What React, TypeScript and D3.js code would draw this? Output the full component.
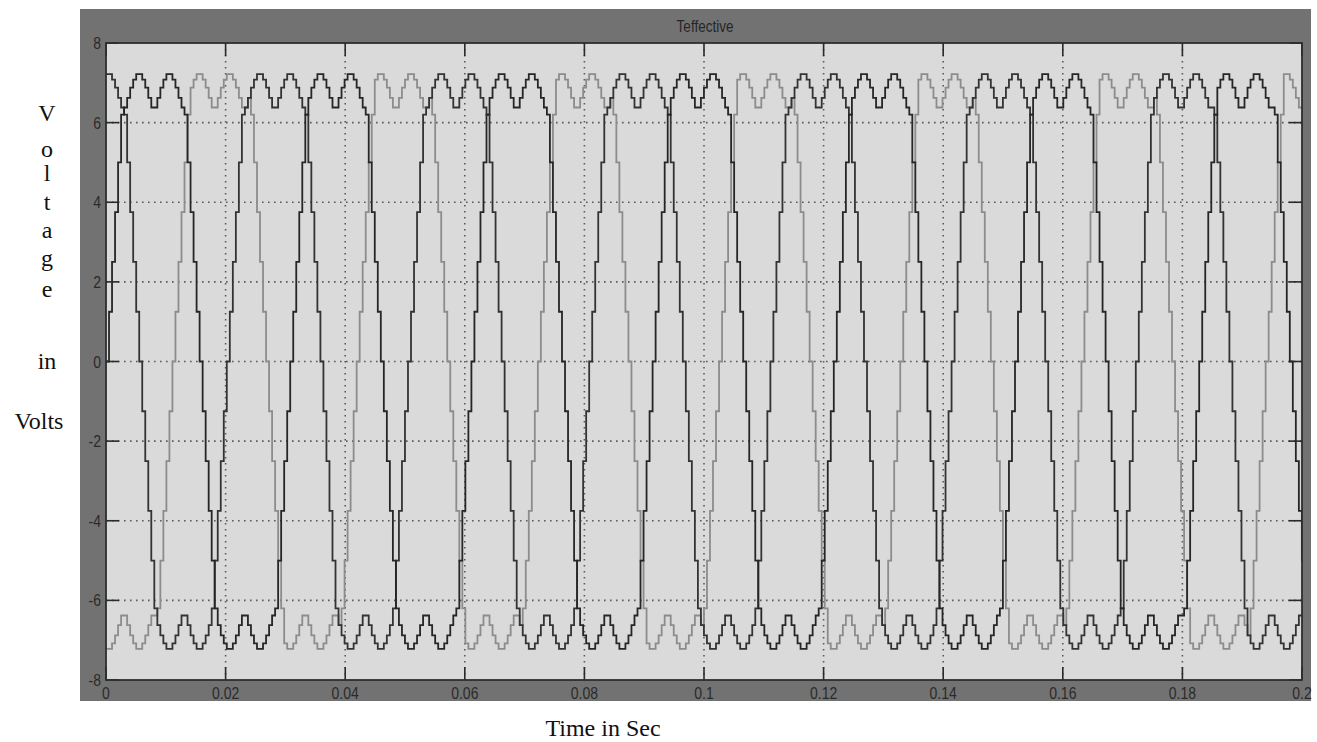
import React from "react";
import * as d3 from "d3";

// axis ticks
const X_TICKS = [0, 0.02, 0.04, 0.06, 0.08, 0.1, 0.12, 0.14, 0.16, 0.18, 0.2];
const X_TICK_LABELS = ["0", "0.02", "0.04", "0.06", "0.08", "0.1", "0.12", "0.14", "0.16", "0.18", "0.2"];
const Y_TICKS = [-8, -6, -4, -2, 0, 2, 4, 6, 8];
const Y_TICK_LABELS = ["-8", "-6", "-4", "-2", "0", "2", "4", "6", "8"];

const Y_LETTERS = ["V", "o", "l", "t", "a", "g", "e"];
const Y_LETTER_POS = [121, 157, 181, 210, 238, 266, 297];

// scope hold time of the stepped traces (s)
const SAMPLE = 0.000505;
// ripple on the top / bottom band, one period read from valley to valley
const RIPPLE_START = 0.003;
const RIPPLE_LEVELS = [6.38, 6.62, 6.88, 7.08, 7.22, 7.22, 7.08, 6.88, 6.62, 6.38];
// staircase of a full swing, centred on the zero crossing
const SWING_LEVELS = [-6.2, -5.0, -3.75, -2.5, -1.25, 0, 1.25, 2.5, 3.75, 5.0, 6.2];

// zero crossings [time, direction] of each trace
const DARK_A = [
  [0.0057, -1], [0.0200, 1], [0.0360, -1], [0.0506, 1], [0.0663, -1], [0.0809, 1],
  [0.0966, -1], [0.1112, 1], [0.1268, -1], [0.1415, 1], [0.1571, -1], [0.1722, 1],
  [0.1880, -1],
];
const DARK_B = [
  [0.0, 1], [0.0157, -1], [0.0309, 1], [0.0461, -1], [0.0612, 1], [0.0764, -1],
  [0.0915, 1], [0.1067, -1], [0.1218, 1], [0.1370, -1], [0.1521, 1], [0.1674, -1],
  [0.1826, 1], [0.1979, -1],
];
const GRAY_C = [
  [0.0113, 1], [0.0266, -1], [0.0418, 1], [0.0570, -1], [0.0721, 1], [0.0873, -1],
  [0.1024, 1], [0.1176, -1], [0.1327, 1], [0.1479, -1], [0.1631, 1], [0.1784, -1],
  [0.1938, 1],
];

function ripple(t) {
  const n = RIPPLE_LEVELS.length;
  let idx = Math.floor((t - RIPPLE_START) / SAMPLE + 1e-6) % n;
  if (idx < 0) idx += n;
  return RIPPLE_LEVELS[idx];
}

function buildTrace(crossings) {
  const half = (SWING_LEVELS.length - 1) / 2;
  const pts = [];
  const count = Math.ceil(0.2 / SAMPLE);
  for (let i = 0; i <= count; i++) {
    const t = Math.min(i * SAMPLE, 0.2);
    let best = crossings[0];
    for (const c of crossings) {
      if (Math.abs(t - c[0]) < Math.abs(t - best[0])) best = c;
    }
    const [tc, dir] = best;
    const env = ripple(t);
    const k = Math.round((t - tc) / SAMPLE);
    let v;
    if (Math.abs(k) <= half) {
      v = dir * SWING_LEVELS[k + half];
      v = Math.max(-env, Math.min(env, v));
    } else {
      v = (t > tc ? dir : -dir) * env;
    }
    pts.push([t, v]);
  }
  return pts;
}

const W = 1317;
const H = 742;
const PLOT = { left: 106, right: 1302, top: 43, bottom: 680 };

export default function App() {
  const x = d3.scaleLinear().domain([0, 0.2]).range([PLOT.left, PLOT.right]);
  const y = d3.scaleLinear().domain([-8, 8]).range([PLOT.bottom, PLOT.top]);
  const line = d3.line().x(d => x(d[0])).y(d => y(d[1])).curve(d3.curveStepAfter);

  const traces = [
    { data: buildTrace(GRAY_C), color: "#8c8c8c" },
    { data: buildTrace(DARK_A), color: "#333333" },
    { data: buildTrace(DARK_B), color: "#262626" },
  ];

  const tickFont = { fontFamily: "Liberation Sans, Arial, sans-serif", fontSize: 14, fill: "#2a2a2a" };

  return (
    <svg width={W} height={H} style={{ position: "absolute", left: 0, top: 0, background: "#fff" }}>
      <rect x={80} y={9} width={1231} height={692} fill="#727272" />
      <text transform="translate(705,32) scale(1,1.2)" textAnchor="middle" fontFamily="Liberation Sans, Arial, sans-serif" fontSize={13.5} fill="#262626">Teffective</text>

      <rect x={PLOT.left} y={PLOT.top} width={PLOT.right - PLOT.left} height={PLOT.bottom - PLOT.top} fill="#dadada" />

      <defs>
        <clipPath id="plot-clip">
          <rect x={PLOT.left} y={PLOT.top} width={PLOT.right - PLOT.left} height={PLOT.bottom - PLOT.top} />
        </clipPath>
      </defs>

      {/* dotted grid */}
      <g stroke="#5a5a5a" strokeWidth={1.6} strokeDasharray="1.6,4.4">
        {X_TICKS.slice(1, -1).map(t => (
          <line key={"gx" + t} x1={x(t)} x2={x(t)} y1={PLOT.top} y2={PLOT.bottom} />
        ))}
        {Y_TICKS.slice(1, -1).map(v => (
          <line key={"gy" + v} x1={PLOT.left} x2={PLOT.right} y1={y(v)} y2={y(v)} />
        ))}
      </g>

      <g clipPath="url(#plot-clip)" fill="none" strokeWidth={1.8}>
        {traces.map((tr, i) => (
          <path key={i} d={line(tr.data)} stroke={tr.color} />
        ))}
      </g>

      {/* tick marks */}
      <g stroke="#2a2a2a" strokeWidth={1.6}>
        {X_TICKS.map(t => (
          <g key={"tx" + t}>
            <line x1={x(t)} x2={x(t)} y1={PLOT.top} y2={PLOT.top + 13} />
            <line x1={x(t)} x2={x(t)} y1={PLOT.bottom} y2={PLOT.bottom - 13} />
          </g>
        ))}
        {Y_TICKS.map(v => (
          <g key={"ty" + v}>
            <line x1={PLOT.left} x2={PLOT.left + 13} y1={y(v)} y2={y(v)} />
            <line x1={PLOT.right} x2={PLOT.right - 13} y1={y(v)} y2={y(v)} />
          </g>
        ))}
      </g>
      <rect x={PLOT.left} y={PLOT.top} width={PLOT.right - PLOT.left} height={PLOT.bottom - PLOT.top} fill="none" stroke="#2e2e2e" strokeWidth={1.8} />

      {/* tick labels */}
      {Y_TICKS.map((v, i) => (
        <text key={"ly" + v} transform={`translate(101,${y(v) + 6}) scale(1,1.2)`} textAnchor="end" {...tickFont}>{Y_TICK_LABELS[i]}</text>
      ))}
      {X_TICKS.map((t, i) => (
        <text key={"lx" + t} transform={`translate(${Math.min(x(t), 1302)},699) scale(1,1.2)`} textAnchor="middle" {...tickFont}>{X_TICK_LABELS[i]}</text>
      ))}

      {/* axis titles */}
      <g fontFamily="Liberation Serif, Times New Roman, serif" fontSize={24} fill="#111" textAnchor="middle">
        {Y_LETTERS.map((c, i) => (
          <text key={c + i} x={47} y={Y_LETTER_POS[i]}>{c}</text>
        ))}
        <text x={47} y={369}>in</text>
        <text x={39} y={429}>Volts</text>
        <text x={603} y={736}>Time in Sec</text>
      </g>
    </svg>
  );
}
